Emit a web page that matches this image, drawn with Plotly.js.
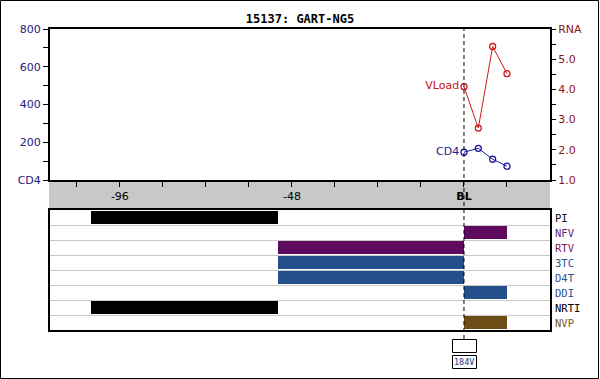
<!DOCTYPE html>
<html>
<head>
<meta charset="utf-8">
<script src="https://cdn.plot.ly/plotly-3.0.1.min.js"></script>
<style>html,body{margin:0;padding:0;background:#fff;}#chart{width:600px;height:379px;}</style>
</head>
<body>
<div id="chart"></div>
<script>
// ---- data ----
const chartTitle = '15137: GART-NG5';
const weeks = [0, 4, 8, 12];
const vload = [4.09, 2.72, 5.42, 4.52];
const cd4 = [147, 168, 110, 73];
const xTickVals = [-108, -96, -84, -72, -60, -48, -36, -24, -12, 0, 12];
const xTickText = ['', '-96', '', '', '', '-48', '', '', '', '<b>BL</b>', ''];
const cd4TickVals = [0, 200, 400, 600, 800];
const cd4TickText = ['CD4', '200', '400', '600', '800'];
const rnaTickVals = [1, 2, 3, 4, 5, 6];
const rnaTickText = ['1.0', '2.0', '3.0', '4.0', '5.0', 'RNA'];
const drugs = ['PI', 'NFV', 'RTV', '3TC', 'D4T', 'DDI', 'NRTI', 'NVP'];
const drugLabelColors = ['#000000', '#6a1f6e', '#7e1a52', '#2c5790', '#2c5790', '#2c5790', '#000000', '#7a5a1e'];
const segDrug = ['PI', 'NRTI', 'RTV', '3TC', 'D4T', 'NFV', 'DDI', 'NVP'];
const segStart = [-104, -104, -52, -52, -52, 0, 0, 0];
const segEnd = [-52, -52, 0, 0, 0, 12, 12, 12];
const segColor = ['#000000', '#000000', '#5e0b5e', '#23508a', '#23508a', '#5e0b5e', '#23508a', '#6e4c16'];
const mutationLabel = '184V';

// ---- layout helpers ----
const W = 600, H = 379;
const px = v => v / W;
const py = v => (H - v) / H;
const rowY = d => drugs.length - 0.5 - drugs.indexOf(d);

const traces = [];
traces.push({
  x: weeks, y: vload, xaxis: 'x', yaxis: 'y3', type: 'scatter',
  mode: 'lines+markers+text',
  text: ['VLoad', '', '', ''], textposition: 'middle left',
  textfont: {family: 'DejaVu Sans', size: 11, color: '#cc1111'},
  line: {color: '#d01818', width: 1},
  marker: {symbol: 'circle-open', size: 6, color: '#d01818', line: {width: 1.3}},
  hoverinfo: 'none', cliponaxis: false
});
traces.push({
  x: weeks, y: cd4, xaxis: 'x', yaxis: 'y', type: 'scatter',
  mode: 'lines+markers+text',
  text: ['CD4', '', '', ''], textposition: 'middle left',
  textfont: {family: 'DejaVu Sans', size: 11, color: '#1a1a90'},
  line: {color: '#1a1aa0', width: 1},
  marker: {symbol: 'circle-open', size: 6, color: '#1a1aa0', line: {width: 1.3}},
  hoverinfo: 'none', cliponaxis: false
});
for (let i = 0; i < segDrug.length; i++) {
  traces.push({
    type: 'bar', orientation: 'h', xaxis: 'x2', yaxis: 'y2',
    y: [rowY(segDrug[i])], base: [segStart[i]], x: [segEnd[i] - segStart[i]],
    width: 0.9, marker: {color: segColor[i], line: {width: 0}},
    hoverinfo: 'none', showlegend: false
  });
}

const annotations = drugs.map((d, i) => ({
  xref: 'paper', yref: 'y2', x: px(553), y: rowY(d), xanchor: 'left', yanchor: 'middle',
  text: d, showarrow: false,
  font: {family: 'DejaVu Sans Mono', size: 10.5, color: drugLabelColors[i]}
}));
annotations.push({
  xref: 'x', yref: 'paper', x: 0, y: py(361.5), xanchor: 'center', yanchor: 'middle',
  text: mutationLabel, showarrow: false,
  font: {family: 'DejaVu Sans Mono', size: 8.5, color: '#1a3a7a'}
});

const shapes = [
  {type: 'rect', xref: 'paper', yref: 'paper', x0: px(49), x1: px(550), y0: py(208), y1: py(180),
   fillcolor: '#c8c8c8', line: {width: 0}, layer: 'below'},
  {type: 'line', xref: 'x', yref: 'paper', x0: 0, x1: 0, y0: py(339), y1: py(29),
   line: {color: '#000', width: 1, dash: '4px,3px'}},
  {type: 'rect', xref: 'paper', yref: 'paper', x0: px(452.5), x1: px(476.5), y0: py(352.5), y1: py(339.5),
   fillcolor: '#fff', line: {color: '#000', width: 1}},
  {type: 'rect', xref: 'paper', yref: 'paper', x0: px(452.5), x1: px(476.5), y0: py(368.5), y1: py(355.5),
   fillcolor: '#fff', line: {color: '#000', width: 1}, layer: 'below'},
  {type: 'rect', xref: 'paper', yref: 'paper', x0: px(0.5), x1: px(598.5), y0: py(378.5), y1: py(0.5),
   line: {color: '#000', width: 1}}
];

const xRange = [-115.5, 24];
const layout = {
  width: W, height: H,
  margin: {l: 0, r: 0, t: 0, b: 0},
  paper_bgcolor: '#fff', plot_bgcolor: 'rgba(0,0,0,0)',
  showlegend: false,
  title: {text: '<b>' + chartTitle + '</b>', font: {family: 'DejaVu Sans Mono', size: 12, color: '#000'},
          x: 0.5, xanchor: 'center', y: py(19), yanchor: 'middle', xref: 'paper', yref: 'paper'},
  xaxis: {domain: [px(50), px(550)], range: xRange, anchor: 'y',
          tickmode: 'array', tickvals: xTickVals, ticktext: xTickText,
          ticks: 'outside', ticklen: 5, tickcolor: '#000', tickwidth: 1,
          showline: true, linewidth: 2, linecolor: '#000', mirror: true,
          showgrid: false, zeroline: false,
          tickfont: {family: 'DejaVu Sans', size: 11, color: '#000'}},
  yaxis: {domain: [py(180), py(29)], range: [0, 800], anchor: 'x',
          tickmode: 'array', tickvals: cd4TickVals, ticktext: cd4TickText,
          ticks: 'outside', ticklen: 5, tickcolor: '#000',
          minor: {tickmode: 'array', tickvals: [100, 300, 500, 700], ticks: 'outside', ticklen: 5, tickcolor: '#000'},
          showline: true, linewidth: 2, linecolor: '#000', mirror: true,
          showgrid: false, zeroline: false,
          tickfont: {family: 'DejaVu Sans', size: 11, color: '#1a1a80'}},
  yaxis3: {overlaying: 'y', side: 'right', anchor: 'x', range: [1, 6],
          tickmode: 'array', tickvals: rnaTickVals, ticktext: rnaTickText,
          ticks: 'outside', ticklen: 5, tickcolor: '#000',
          minor: {tickmode: 'array', tickvals: [1.5, 2.5, 3.5, 4.5, 5.5], ticks: 'outside', ticklen: 5, tickcolor: '#000'},
          showline: false, showgrid: false, zeroline: false,
          tickfont: {family: 'DejaVu Sans', size: 11, color: '#8c1414'}},
  xaxis2: {domain: [px(50), px(550)], range: xRange, anchor: 'y2',
          showticklabels: false, ticks: '', showgrid: false, zeroline: false,
          showline: true, linewidth: 2, linecolor: '#000', mirror: true},
  yaxis2: {domain: [py(330), py(210)], range: [0, drugs.length], anchor: 'x2',
          tickmode: 'array', tickvals: [1, 2, 3, 4, 5, 6, 7], showticklabels: false, ticks: '',
          showgrid: true, gridcolor: '#c8c8c8', gridwidth: 1, zeroline: false,
          showline: true, linewidth: 2, linecolor: '#000', mirror: true},
  bargap: 0,
  annotations: annotations,
  shapes: shapes
};

Plotly.newPlot('chart', traces, layout, {displayModeBar: false, staticPlot: true});
</script>
</body>
</html>
